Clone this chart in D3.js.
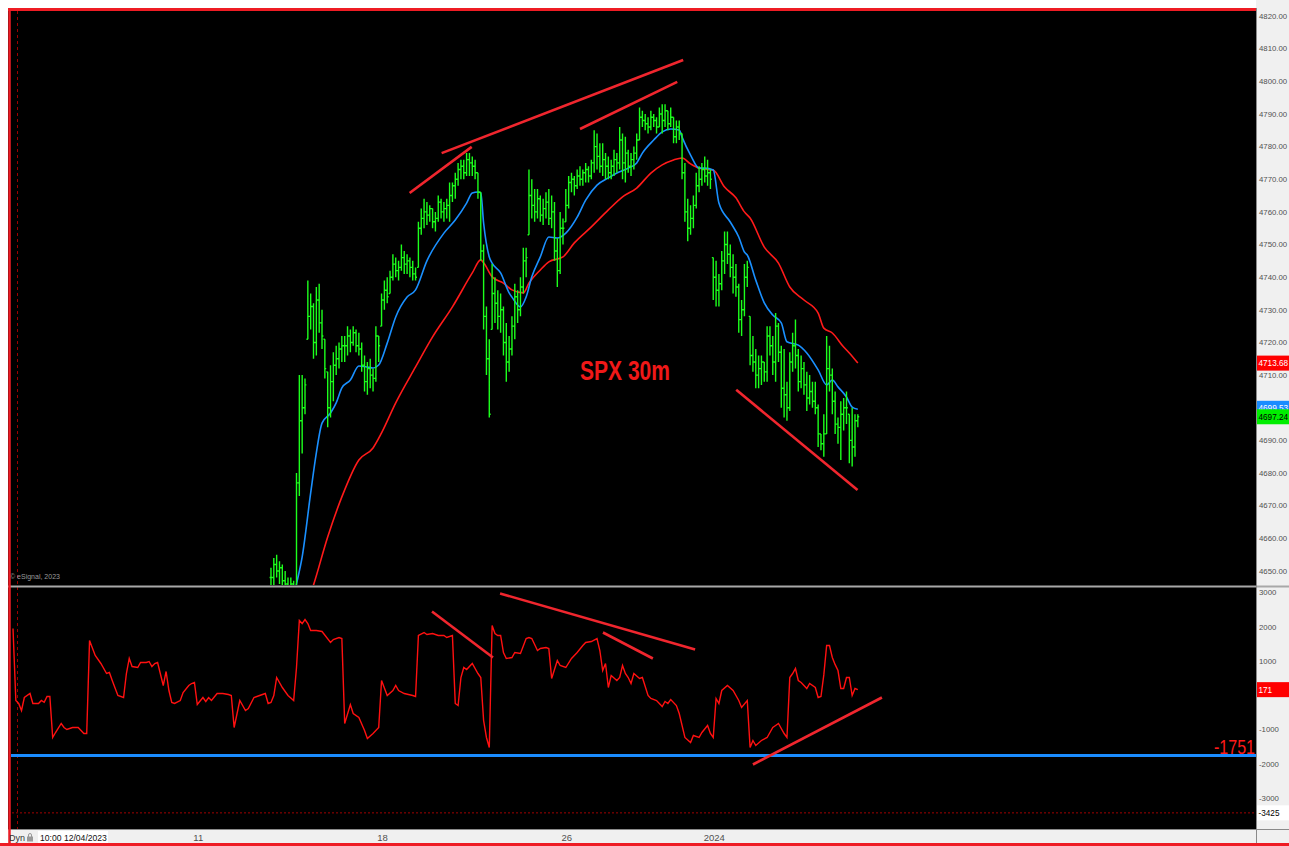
<!DOCTYPE html>
<html><head><meta charset="utf-8">
<script src="https://cdn.jsdelivr.net/npm/d3@7"></script>
<style>body{margin:0;background:#fff;overflow:hidden}svg{display:block}</style>
</head><body><svg id="c" width="1289" height="846"></svg>
<script>
// ---------------- DATA ----------------
const dayLabels = ["11", "18", "26", "2024"];
const dayLabelIdx = [65, 130, 195, 247];
const priceTicks = [4820, 4810, 4800, 4790, 4780, 4770, 4760, 4750, 4740, 4730, 4720, 4710, 4690, 4680, 4670, 4660, 4650];
const indTicks = [3000, 2000, 1000, -1000, -2000, -3000];

const barStart = 91;
const barHigh = [
4651,4654,4655,4653,4652,4650,4648,4648,4647,4680,4710,4710,4709,
4739,4735,4732,4737,4738,4730,4721,4711,4713,4717,4719,4720,4722,
4722,4725,4724,4725,4724,4723,4720,4716,4714,4715,4712,4725,4722,
4735,4739,4740,4742,4747,4746,4745,4750,4748,4747,4746,4745,4743,
4757,4761,4764,4763,4762,4761,4760,4765,4764,4763,4764,4769,4769,
4772,4775,4776,4776,4778,4778,4777,4776,4772,4766,4750,4731,4721,
4744,4740,4736,4735,4731,4726,4722,4728,4738,4736,4740,4749,4749,
4773,4770,4767,4767,4765,4764,4766,4767,4765,4763,4752,4760,4758,
4767,4771,4772,4771,4773,4774,4773,4775,4774,4776,4785,4784,4781,
4781,4778,4777,4776,4779,4778,4786,4784,4783,4779,4778,4780,4784,
4792,4791,4790,4789,4791,4790,4789,4792,4793,4793,4791,4792,4789,
4788,4788,4784,4775,4764,4762,4765,4772,4774,4775,4777,4776,4773,
4746,4745,4741,4748,4754,4754,4750,4747,4744,4738,4733,4744,4745,
4728,4722,4718,4716,4716,4714,4725,4725,4722,4729,4726,4719,4718,
4708,4717,4723,4727,4718,4716,4714,4711,4710,4708,4708,4701,4692,
4698,4722,4719,4712,4705,4697,4702,4703,4705,4698,4700,4698,4698];
const barLow = [
4643,4645,4648,4646,4644,4643,4642,4641,4642,4645,4673,4686,4698,
4721,4724,4715,4716,4723,4718,4709,4694,4697,4702,4710,4712,4714,
4714,4716,4717,4719,4717,4716,4711,4705,4704,4706,4705,4708,4714,
4725,4730,4732,4735,4739,4740,4739,4742,4741,4741,4740,4739,4739,
4743,4753,4755,4756,4757,4755,4754,4757,4758,4757,4758,4757,4763,
4764,4768,4770,4770,4771,4771,4771,4770,4764,4745,4724,4710,4697,
4724,4726,4724,4723,4716,4708,4711,4716,4721,4726,4728,4735,4740,
4753,4758,4757,4758,4757,4756,4758,4756,4755,4745,4737,4741,4750,
4757,4761,4766,4765,4767,4768,4768,4769,4769,4770,4772,4773,4772,
4771,4770,4770,4770,4771,4772,4773,4770,4769,4772,4771,4773,4776,
4782,4786,4785,4784,4785,4786,4784,4786,4784,4786,4785,4786,4781,
4781,4782,4770,4757,4751,4753,4755,4761,4766,4768,4769,4768,4767,
4733,4731,4731,4736,4741,4744,4740,4735,4734,4723,4722,4728,4737,
4713,4711,4706,4706,4707,4708,4708,4716,4710,4708,4714,4700,4697,
4696,4699,4711,4712,4705,4706,4704,4699,4701,4700,4698,4688,4687,
4685,4692,4705,4698,4692,4689,4684,4693,4695,4683,4682,4685,4694];
const barClose = [
4648,4652,4650,4651,4647,4646,4645,4646,4645,4677,4696,4700,4707,
4728,4731,4720,4733,4726,4722,4712,4700,4708,4713,4715,4718,4719,
4719,4722,4720,4723,4719,4718,4713,4708,4712,4710,4709,4722,4719,
4733,4736,4734,4740,4744,4742,4743,4746,4744,4745,4743,4741,4740,
4755,4758,4760,4759,4761,4757,4758,4763,4760,4761,4762,4765,4768,
4770,4773,4774,4772,4776,4775,4774,4772,4766,4748,4728,4715,4698,
4735,4732,4728,4730,4720,4714,4718,4725,4734,4730,4737,4745,4746,
4765,4762,4760,4764,4759,4761,4763,4758,4760,4748,4742,4755,4755,
4762,4769,4770,4768,4771,4770,4772,4773,4771,4775,4780,4777,4774,
4776,4774,4772,4774,4776,4775,4782,4775,4778,4774,4776,4778,4782,
4789,4788,4787,4786,4789,4788,4786,4790,4788,4791,4787,4789,4783,
4786,4784,4772,4760,4755,4758,4762,4768,4770,4773,4771,4772,4770,
4740,4736,4738,4745,4750,4747,4743,4740,4737,4727,4730,4740,4743,
4716,4714,4710,4712,4714,4711,4722,4719,4714,4725,4717,4706,4704,
4700,4714,4719,4716,4708,4712,4707,4703,4705,4702,4700,4692,4689,
4692,4712,4710,4702,4695,4694,4698,4700,4700,4690,4688,4696,4697.24];

const maFastIdx = [98,100,102,105,107,109,112,114,116,119,122,125,127,129,132,135,139,142,146,152,156,160,162,164,165,166,168,169,172,175,176,179,181,183,186,189,192,195,199,202,206,210,213,217,220,222,226,229,232,235,236,239,242,244,247,249,253,256,258,259,262,265,268,271,273,277,280,284,287,289,291,294,296,298];
const maFastVal = [4638,4646,4654.3,4673.9,4686.2,4695.3,4698.4,4701.5,4706.1,4708.5,4712.8,4712.5,4712.2,4713.1,4719.8,4727.8,4733.9,4736.1,4745,4753.5,4757.5,4762.7,4765.8,4766.1,4765.8,4756.6,4746.2,4744.3,4741.3,4735.2,4733.9,4730.9,4733.9,4740.1,4746.2,4752.3,4752,4753.5,4758.4,4763.6,4768.2,4770.4,4771.9,4773.4,4775,4778,4782,4784.5,4785.4,4785.1,4782.9,4777.4,4773.4,4773.4,4772.8,4762.7,4756.9,4752.3,4747.7,4746.8,4739.1,4732.1,4728.4,4726,4720.2,4719.2,4716.8,4711.6,4707,4708.5,4706.4,4703.3,4700.2,4699.53];
const maSlowIdx = [103,106,111,116,122,127,130,135,142,148,155,162,165,166,169,173,176,180,182,186,189,194,198,204,210,215,220,225,229,233,236,239,242,247,251,255,258,260,265,270,274,279,284,286,289,293,295,298];
const maSlowVal = [4638,4645.7,4660.4,4672.7,4684,4687.7,4692.3,4701.5,4712.5,4721.7,4730.9,4741.3,4745.3,4744.4,4740.1,4738.2,4736.1,4735.2,4738.2,4742.2,4744.7,4746.2,4750.5,4755.4,4760.6,4764.6,4767.3,4771.9,4774.4,4775.9,4776.5,4774.7,4773.4,4772.8,4767.6,4764.3,4760,4758.1,4749.2,4744.3,4737,4733,4729,4724.4,4722.9,4718.6,4716.8,4713.68];

const indIdx = [0,1,2,3,4,6,7,9,10,11,12,13,14,15,17,18,19,21,23,25,26,27,29,31,33,34,35,37,39,40,41,42,44,45,47,48,49,50,51,53,54,55,56,57,59,60,62,63,64,65,67,68,69,70,72,74,76,77,78,80,82,83,85,87,89,90,91,92,93,95,97,99,100,101,102,103,104,105,107,109,112,113,115,116,117,119,120,122,124,125,127,129,130,132,134,135,136,138,141,142,143,145,146,148,150,152,153,155,156,157,158,159,160,162,164,165,166,167,168,169,170,171,172,173,174,176,177,179,181,182,183,185,186,188,189,190,192,193,195,197,199,201,202,204,206,207,208,209,210,211,213,214,215,216,217,218,219,221,222,224,225,227,229,230,231,232,234,235,237,239,240,242,243,245,246,247,248,249,250,252,254,256,257,259,260,261,262,264,266,268,269,270,272,273,274,275,276,277,278,280,281,283,284,285,286,287,288,289,290,291,292,293,294,295,296,297,298];
const indVal = [1955,-146,-233,-438,-58,58,-233,-233,-146,-200,-29,-29,-1225,-1080,-817,-934,-992,-934,-934,-1109,-1109,1605,1167,934,642,671,438,0,-58,642,1080,846,817,963,963,992,846,934,963,292,700,146,-204,-233,-146,88,292,350,379,-263,-58,-175,-58,-146,58,58,29,0,-934,-146,-438,-379,-58,0,58,-233,-204,0,525,233,0,-146,817,2188,2100,2218,2100,1897,1897,1868,1547,1634,1692,1663,-817,-263,-525,-642,-1021,-1255,-1109,-934,438,0,146,292,146,58,0,-29,1751,1838,1780,1809,1751,1751,1692,1751,-233,-292,525,817,759,934,642,525,-730,-1225,-1517,2043,1809,1751,1751,1255,1080,1109,1255,1226,1663,1692,1663,1313,1371,1400,1371,496,1021,875,817,1080,1255,1459,1547,1576,1663,1313,729,934,233,584,438,525,875,642,525,350,642,496,525,0,-88,-146,-321,-175,-233,-117,-292,-525,-1225,-1371,-1167,-1225,-1080,-875,-1109,-1225,-88,-233,146,292,146,-146,-350,-146,-1517,-1313,-1459,-1313,-1225,-934,-875,-817,-1109,-1225,525,642,788,438,379,204,350,233,-58,-29,600,1459,1459,1109,900,729,204,204,525,525,0,204,171];

// drawn trend lines: [idx1, value1, idx2, value2]
const priceTrendLines = [[139.9,4765.8,161.8,4779.9],[151.2,4778.0,236.4,4806.5],[200,4785.4,234.3,4799.8],[255.1,4705.5,297.9,4674.8]];
const indTrendLines = [[147.8,2451,169.3,1109],[171.8,2977,240.6,1342],[208.1,1838,225.7,1080],[261,-2013,306.5,-58]];
const indLevel = -1751;
const indMinLevel = -3425;
const lastClose = 4697.24, lastFast = 4699.53, lastSlow = 4713.68, lastInd = 171;

// ---------------- CHART ----------------
const W = 1289, H = 846;
const svg = d3.select("#c");
const AX = 1256;
const sans = "'Liberation Sans',Arial,sans-serif";

const x = d3.scaleLinear().domain([0, 298]).range([13, 13 + 298 * 2.835]);
const yP = d3.scaleLinear().domain([4650, 4820]).range([571, 16]);
const yI = d3.scaleLinear().domain([-3000, 3000]).range([798.3, 592.7]);

svg.append("rect").attr("width", W).attr("height", H).attr("fill", "#fff");
svg.append("rect").attr("x", AX).attr("y", 0).attr("width", W - AX).attr("height", H).attr("fill", "#f0f0f0");
svg.append("rect").attr("x", 8).attr("y", 8).attr("width", AX - 8).attr("height", 821).attr("fill", "#000");
svg.append("rect").attr("x", 8).attr("y", 829).attr("width", W - 8).attr("height", 14).attr("fill", "#f0f0f0");

const defs = svg.append("defs");
defs.append("clipPath").attr("id", "cp").append("rect").attr("x", 11).attr("y", 11).attr("width", AX - 11).attr("height", 574);
defs.append("clipPath").attr("id", "ci").append("rect").attr("x", 11).attr("y", 588).attr("width", AX - 11).attr("height", 240);

svg.append("line").attr("x1", 17.5).attr("x2", 17.5).attr("y1", 11).attr("y2", 829)
  .attr("stroke", "#9a0000").attr("stroke-width", 1).attr("stroke-dasharray", "3,3");

// ---- price panel
const gp = svg.append("g").attr("clip-path", "url(#cp)");
const maLine = (idx, val) => d3.line().x((d, k) => x(idx[k])).y(d => yP(d)).curve(d3.curveMonotoneX)(val);
gp.append("path").attr("d", maLine(maSlowIdx, maSlowVal)).attr("fill", "none").attr("stroke", "#ff1a1a").attr("stroke-width", 1.6);
gp.append("path").attr("d", maLine(maFastIdx, maFastVal)).attr("fill", "none").attr("stroke", "#1a90ff").attr("stroke-width", 1.6);

let barPath = "";
barHigh.forEach((h, k) => {
  const i = barStart + k;
  const lo = barLow[k], c = barClose[k];
  let o = k > 0 ? barClose[k - 1] : c;
  o = Math.max(lo, Math.min(h, o));
  const xx = x(i);
  barPath += `M${xx},${yP(h)}V${yP(lo)}M${xx - 1.4},${yP(o)}H${xx}M${xx},${yP(c)}H${xx + 1.4}`;
});
gp.append("path").attr("d", barPath).attr("fill", "none").attr("stroke", "#1cff1c").attr("stroke-width", 1.4);

priceTrendLines.forEach(t => {
  gp.append("line").attr("x1", x(t[0])).attr("y1", yP(t[1])).attr("x2", x(t[2])).attr("y2", yP(t[3]))
    .attr("stroke", "#f0262e").attr("stroke-width", 2.6);
});

svg.append("text").attr("x", 580).attr("y", 380).text("SPX 30m")
  .attr("fill", "#f01818").attr("font-family", sans).attr("font-weight", "bold").attr("font-size", 27)
  .attr("textLength", 90).attr("lengthAdjust", "spacingAndGlyphs");

svg.append("text").attr("x", 10).attr("y", 579).text("© eSignal, 2023")
  .attr("fill", "#9a9a9a").attr("font-family", sans).attr("font-size", 7);

// ---- indicator panel
const gi = svg.append("g").attr("clip-path", "url(#ci)");
gi.append("line").attr("x1", 8).attr("x2", AX).attr("y1", yI(indMinLevel)).attr("y2", yI(indMinLevel))
  .attr("stroke", "#a00000").attr("stroke-width", 1).attr("stroke-dasharray", "2,2");
gi.append("line").attr("x1", 8).attr("x2", AX).attr("y1", yI(indLevel)).attr("y2", yI(indLevel))
  .attr("stroke", "#1a8cff").attr("stroke-width", 3);
gi.append("path").attr("d", d3.line().x((d, k) => x(indIdx[k])).y(d => yI(d))(indVal))
  .attr("fill", "none").attr("stroke", "#ff1010").attr("stroke-width", 1.4);
indTrendLines.forEach(t => {
  gi.append("line").attr("x1", x(t[0])).attr("y1", yI(t[1])).attr("x2", x(t[2])).attr("y2", yI(t[3]))
    .attr("stroke", "#f0262e").attr("stroke-width", 2.6);
});
svg.append("text").attr("x", AX - 1).attr("y", yI(indLevel) - 2).attr("text-anchor", "end").text(String(indLevel))
  .attr("fill", "#ff1a1a").attr("font-family", sans).attr("font-size", 21)
  .attr("textLength", 41).attr("lengthAdjust", "spacingAndGlyphs");

// ---- frame lines
svg.append("line").attr("x1", 8).attr("x2", W).attr("y1", 586.5).attr("y2", 586.5).attr("stroke", "#a8a8a8").attr("stroke-width", 2);
svg.append("line").attr("x1", AX + 0.5).attr("x2", AX + 0.5).attr("y1", 8).attr("y2", 843).attr("stroke", "#8a8a8a").attr("stroke-width", 1);
svg.append("line").attr("x1", 8).attr("x2", W).attr("y1", 829.5).attr("y2", 829.5).attr("stroke", "#8a8a8a").attr("stroke-width", 1);
svg.append("line").attr("x1", 8).attr("x2", AX).attr("y1", 9.5).attr("y2", 9.5).attr("stroke", "#ee1c24").attr("stroke-width", 3);
svg.append("line").attr("x1", 9.5).attr("x2", 9.5).attr("y1", 8).attr("y2", H).attr("stroke", "#ee1c24").attr("stroke-width", 2.5);
svg.append("line").attr("x1", 0).attr("x2", W).attr("y1", 844.5).attr("y2", 844.5).attr("stroke", "#ee1c24").attr("stroke-width", 3);

// ---- right axes
const ga = svg.append("g").attr("font-family", sans).attr("font-size", 7.8).attr("fill", "#505050");
ga.selectAll(".pt").data(priceTicks).join("text").attr("class", "pt")
  .attr("x", 1259).attr("y", d => yP(d)).attr("dy", "0.35em").text(d => d3.format(".2f")(d));
ga.selectAll(".it").data(indTicks).join("text").attr("class", "it")
  .attr("x", 1259).attr("y", d => yI(d)).attr("dy", "0.35em").text(d => String(d));

function box(v, y, bg, fg) {
  svg.append("rect").attr("x", AX + 1).attr("y", y - 7.5).attr("width", W - AX - 1).attr("height", 15).attr("fill", bg);
  svg.append("text").attr("x", 1258.5).attr("y", y).attr("dy", "0.35em").text(v)
    .attr("fill", fg).attr("font-family", sans).attr("font-size", 8.2);
}
box(lastSlow.toFixed(2), yP(lastSlow), "#ff0000", "#fff");
box(lastFast.toFixed(2), yP(lastFast) - 1, "#1a8cff", "#fff");
box(lastClose.toFixed(2), yP(lastClose), "#00ee00", "#000");
box(String(lastInd), yI(lastInd), "#ff0000", "#fff");
box(String(indMinLevel), yI(indMinLevel), "#ffffff", "#000");

// ---- bottom time axis
const gb = svg.append("g").attr("font-family", sans).attr("font-size", 9.5).attr("fill", "#505050");
gb.selectAll("text").data(dayLabels).join("text")
  .attr("x", (d, k) => x(dayLabelIdx[k]) + 1).attr("y", 841).attr("text-anchor", "middle").text(d => d);
svg.append("rect").attr("x", 38).attr("y", 831).attr("width", 70).attr("height", 12).attr("fill", "#fff");
svg.append("text").attr("x", 40).attr("y", 841).text("10:00 12/04/2023").attr("font-family", sans).attr("font-size", 8.6).attr("fill", "#111");
svg.append("text").attr("x", 9).attr("y", 841).text("Dyn").attr("font-family", sans).attr("font-size", 9).attr("fill", "#333");
svg.append("rect").attr("x", 27).attr("y", 836.5).attr("width", 6).attr("height", 5).attr("fill", "#999");
svg.append("path").attr("d", "M28.5,837V835a1.5,1.5 0 0 1 3,0V837").attr("fill", "none").attr("stroke", "#999").attr("stroke-width", 1);
</script></body></html>
